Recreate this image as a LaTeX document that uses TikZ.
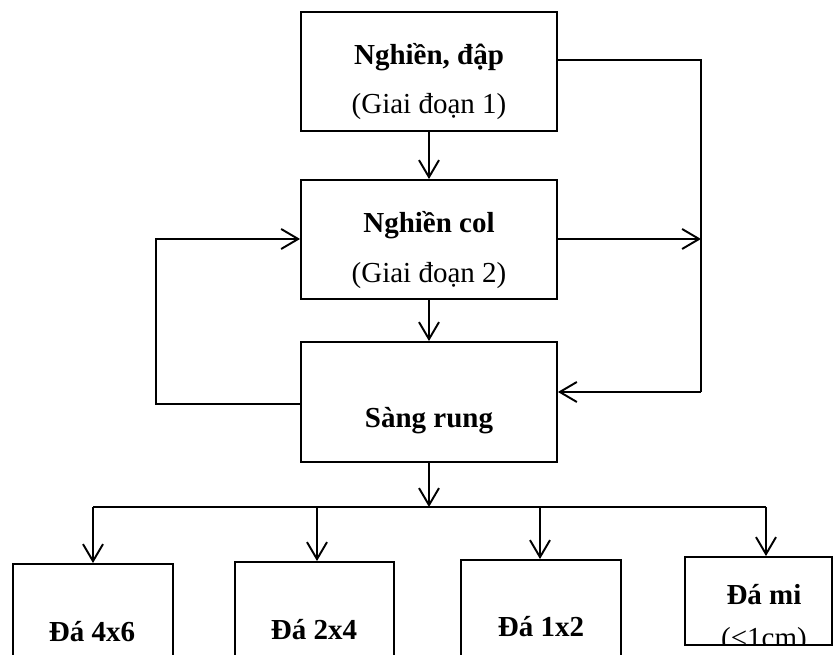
\documentclass[tikz,border=0pt]{standalone}
\usepackage{fontspec}
\setmainfont{Liberation Serif}
\usetikzlibrary{arrows.meta}
\begin{document}
\begin{tikzpicture}[x=.02cm,y=.02cm,line width=1.1pt,
  box/.style={draw,inner sep=0pt},
  txt/.style={anchor=base,inner sep=0pt,font=\fontsize{16.5}{20}\selectfont},
  btxt/.style={txt,font=\fontsize{16.5}{20}\selectfont\bfseries},
  arr/.style={-{Straight Barb[length=.34cm,width=.4cm]}}]
  \useasboundingbox (0,0) rectangle (833,655); \clip (0,0) rectangle (833,655);
  \node[box,minimum width=5.12cm,minimum height=2.38cm] (nghiendap) at (429,583.5) {};
  \node[box,minimum width=5.12cm,minimum height=2.38cm] (nghiencol) at (429,415.5) {};
  \node[box,minimum width=5.12cm,minimum height=2.40cm] (sangrung) at (429,253) {};
  \node[box,minimum width=3.2cm,minimum height=2.8cm] (da46) at (93,21) {};
  \node[box,minimum width=3.18cm,minimum height=2.8cm] (da24) at (314.5,23) {};
  \node[box,minimum width=3.2cm,minimum height=2.8cm] (da12) at (541,25) {};
  \node[box,minimum width=2.94cm,minimum height=1.76cm] (dami) at (758.5,54) {};
  \node[btxt] (t1a) at (429,590) {Nghiền, đập}; \node[txt] (t1b) at (429,541) {(Giai đoạn 1)};
  \node[btxt] (t2a) at (429,422) {Nghiền col}; \node[txt] (t2b) at (429,372) {(Giai đoạn 2)};
  \node[btxt] (t3) at (429,227) {Sàng rung};
  \node[btxt] (t4) at (92,13) {Đá 4x6}; \node[btxt] (t5) at (314,15) {Đá 2x4};
  \node[btxt] (t6) at (541,18) {Đá 1x2}; \node[btxt] (t7a) at (764,50) {Đá mi};
  \begin{scope}
    \clip (dami.south west) rectangle (dami.north east);
    \node[txt] (t7b) at (764,7) {(<1cm)};
  \end{scope}
  \draw[arr] (nghiendap) -- (nghiencol); \draw[arr] (nghiencol) -- (sangrung);
  \coordinate (r1) at (701,595); \coordinate (r2) at (701,416); \coordinate (r3) at (701,263);
  \draw (nghiendap.east |- r1) -- (r1) -- (r3); \draw[arr] (r3) -- (sangrung.east |- r3);
  \draw[arr] (nghiencol.east |- r2) -- (r2);
  \coordinate (l1) at (156,416); \coordinate (l2) at (156,251);
  \draw[arr] (sangrung.west |- l2) -- (l2) -- (l1) -- (nghiencol.west |- l1);
  \coordinate (bus) at (429,148); \draw[arr] (sangrung) -- (bus);
  \foreach \n/\x in {da46/93,da24/317,da12/540,dami/766} {
    \coordinate (b\n) at (\x,148);
    \draw[arr] (b\n) -- (b\n |- \n.north);
  }
  \draw (bda46) -- (bdami);
\end{tikzpicture}
\end{document}
